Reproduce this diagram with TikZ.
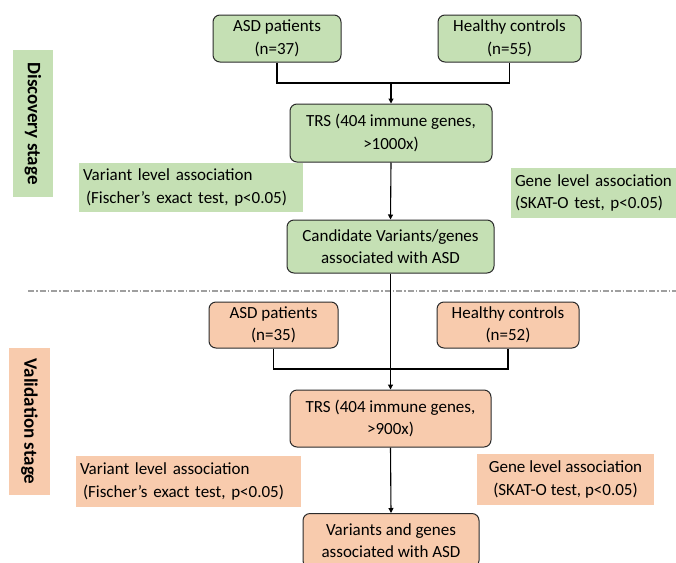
\documentclass[tikz,border=0pt]{standalone}
\usepackage{fontspec}
\setmainfont{Carlito}
\usetikzlibrary{arrows.meta}
\definecolor{gfill}{HTML}{C5E0B4}
\definecolor{ofill}{HTML}{F8CBAD}
\definecolor{bord}{HTML}{2B2B2B}
\begin{document}
\begin{tikzpicture}[x=1pt,y=-1pt,
  every node/.style={font=\fontsize{17}{22.5}\selectfont, inner sep=0pt, align=center},
  rbox/.style={draw=bord, line width=1pt, rounded corners=7pt},
  gbox/.style={rbox, fill=gfill},
  obox/.style={rbox, fill=ofill},
  glab/.style={fill=gfill},
  olab/.style={fill=ofill},
  stagelab/.style={font=\fontsize{19}{22}\selectfont\bfseries, rotate=-90},
  conn/.style={draw=black, line width=1.1pt},
  arr/.style={conn, -{Triangle[length=5pt,width=5pt]}}
]
\useasboundingbox (0,0) rectangle (676,562);
\clip (0,0) rectangle (676,562);
\fill[white] (0,0) rectangle (676,562);

% Discovery stage
\node[stagelab, glab, minimum width=147pt, minimum height=40pt] (dstage) at (33,123.5) {Discovery stage};
\node[gbox, minimum width=128pt, minimum height=47pt] (dasd) at (277,38.5) {ASD patients\\(n=37)};
\node[gbox, minimum width=143pt, minimum height=47pt] (dhc) at (509.5,38.5) {Healthy controls\\(n=55)};
\node[gbox, minimum width=202pt, minimum height=58pt] (dtrs) at (391,133) {TRS (404 immune genes,\\>1000x)};
\node[gbox, minimum width=207pt, minimum height=53pt] (dcand) at (390.5,246.5) {Candidate Variants/genes\\associated with ASD};
\node[glab, minimum width=224pt, minimum height=49pt, text width=216pt, align=left] (dvar) at (191,187.5) {Variant level association\\\hspace*{3pt}(Fischer’s exact test, p<0.05)};
\node[glab, minimum width=175pt, minimum height=50pt, text width=167pt, align=left] (dgene) at (598.5,193) {Gene level association\\(SKAT-O test, p<0.05)};

\coordinate (jd) at (391,83);
\draw[conn] (dasd.south) |- (jd) -| (dhc.south);
\draw[arr] (jd) -- (dtrs.north);
\draw[arr] (dtrs.south) -- (dcand.north);

% separator
\draw[gray!75, line width=1.2pt, dash pattern=on 6pt off 2pt on 1.5pt off 2pt] (28,291) -- (676,291);

% Validation stage
\node[stagelab, olab, minimum width=147pt, minimum height=41pt] (vstage) at (29.5,421.5) {Validation stage};
\node[obox, minimum width=129pt, minimum height=46pt] (vasd) at (273.5,325) {ASD patients\\(n=35)};
\node[obox, minimum width=142pt, minimum height=46pt] (vhc) at (508,325) {Healthy controls\\(n=52)};
\node[obox, minimum width=201pt, minimum height=57pt] (vtrs) at (390.5,418.5) {TRS (404 immune genes,\\>900x)};
\node[obox, minimum width=176pt, minimum height=54pt, anchor=north] (vfin) at (391,513) {Variants and genes\\associated with ASD};
\node[olab, minimum width=225pt, minimum height=51pt, text width=217pt, align=left] (vvar) at (188.5,481.5) {Variant level association\\\hspace*{3pt}(Fischer’s exact test, p<0.05)};
\node[olab, minimum width=177pt, minimum height=51pt] (vgene) at (565.5,479.5) {Gene level association\\(SKAT-O test, p<0.05)};

\coordinate (jv) at (391,369);
\draw[conn] (vasd.south) |- (jv) -| (vhc.south);
\draw[arr] (dcand.south) -- (vtrs.north);
\draw[arr] (vtrs.south) -- (vfin.north);
\end{tikzpicture}
\end{document}
